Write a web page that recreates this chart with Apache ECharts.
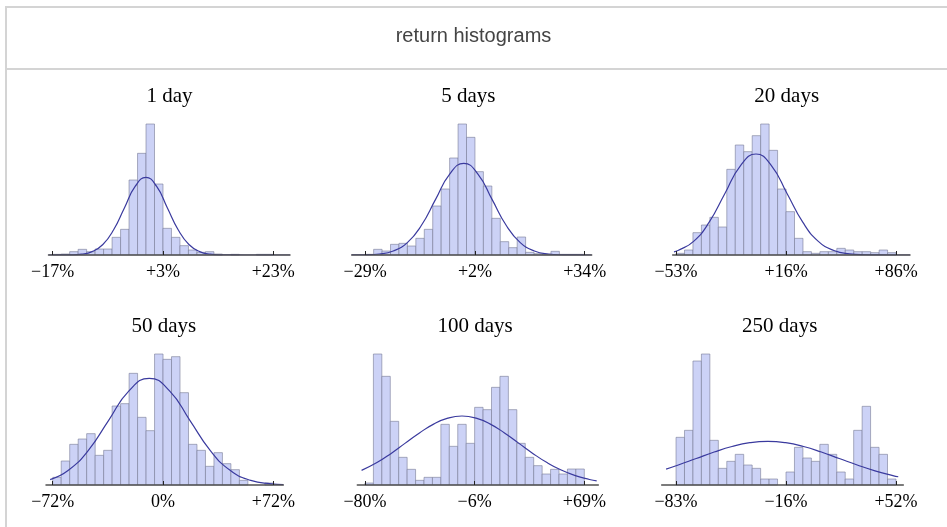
<!DOCTYPE html>
<html>
<head>
<meta charset="utf-8">
<script src="https://cdn.jsdelivr.net/npm/echarts@6/dist/echarts.min.js"></script>
<style>
html,body{margin:0;padding:0;background:#ffffff;}
#c{width:947px;height:527px;}
</style>
</head>
<body>
<div id="c"></div>
<script>
// ---------------- data ----------------
const chartTitle = 'return histograms';
const panelTitles = ['1 day', '5 days', '20 days', '50 days', '100 days', '250 days'];
const binCount = 26;

const ticks1 = [-17, 3, 23];
const tickLabels1 = ['\u221217%', '+3%', '+23%'];
const xRange1 = [-17.76, 26.03];
const counts1 = [2,3,10,17,10,18,18,53,77,225,305,393,213,80,53,28,15,8,10,3,0,2,0,0,2,2];
const fit1 = [[-17.76,0],[-15.7,0.08],[-13.75,0.5],[-11.8,2.6],[-9.85,10.2],[-7.9,31.5],[-5.95,75.7],[-4.0,141.3],[-2.05,205.6],[-0.1,233],[1.85,205.6],[3.8,141.3],[5.75,75.7],[7.7,31.5],[9.65,10.2],[11.6,2.6],[13.55,0.5],[15.5,0.08],[20,0],[26.03,0]];

const ticks2 = [-29, 2.5, 34];
const tickLabels2 = ['\u221229%', '+2%', '+34%'];
const xRange2 = [-32.87, 36.0];
const counts2 = [2,17,12,32,35,27,50,77,147,198,291,393,353,250,207,110,40,22,54,8,4,2,11,2,2,2];
const fit2 = [[-32.87,0.1],[-29.05,0.6],[-25.0,3.05],[-20.95,12.1],[-16.9,37.2],[-12.85,89.3],[-8.8,166.8],[-4.75,242.7],[-0.7,275],[3.35,242.7],[7.4,166.8],[11.45,89.3],[15.5,37.2],[19.55,12.1],[23.6,3.05],[27.65,0.6],[31.7,0.08],[36.0,0]];

const ticks3 = [-53, 16.5, 86];
const tickLabels3 = ['\u221253%', '+16%', '+86%'];
const xRange3 = [-55.1, 94.8];
const counts3 = [5,15,67,90,113,84,257,330,310,358,393,314,198,130,50,10,5,10,10,20,15,10,10,7,15,7];
const fit3 = [[-54.3,9.5],[-51.75,13.3],[-41.9,41.0],[-32.05,98.4],[-22.2,183.8],[-12.35,267.4],[-2.5,303],[7.35,267.4],[17.2,183.8],[27.05,98.4],[36.9,41.0],[46.75,13.3],[56.6,3.4],[66.45,0.7],[76.3,0.1],[85,0],[94.8,0]];

const ticks4 = [-72, 0, 72];
const tickLabels4 = ['\u221272%', '0%', '+72%'];
const xRange4 = [-76.4, 78.5];
const counts4 = [23,72,122,138,154,89,104,237,244,335,203,163,393,377,385,277,122,104,56,97,64,46,14,0,0,6];
const fit4 = [[-73.7,16.3],[-62,43.3],[-48.75,103.9],[-35.5,194.1],[-22.25,282.4],[-9,320],[4.25,282.4],[17.5,194.1],[30.75,103.9],[44,43.3],[57.25,14.0],[70.5,3.6],[78.5,1.4]];

const ticks5 = [-80, -5.5, 69];
const tickLabels5 = ['\u221280%', '\u22126%', '+69%'];
const xRange5 = [-85.2, 78.5];
const counts5 = [6,393,326,191,83,47,14,23,23,182,116,182,125,233,226,293,326,226,125,83,58,33,47,33,48,48];
const fit5 = [[-82.3,43.9],[-71.85,67.2],[-62.2,94.8],[-52.6,125.6],[-42.98,156.2],[-33.35,182.7],[-23.7,200.6],[-14.1,207],[-4.5,200.6],[5.15,182.7],[14.78,156.2],[24.4,125.6],[34.0,94.8],[43.65,67.2],[53.3,44.8],[62.9,28.0],[72.5,16.5],[77.4,12.2]];

const ticks6 = [-83, -15.5, 52];
const tickLabels6 = ['\u221283%', '\u221216%', '+52%'];
const xRange6 = [-91.8, 56.5];
const counts6 = [143,164,372,393,134,50,71,92,60,50,18,18,0,39,113,81,71,122,92,39,18,164,236,113,92,18];
const fit6 = [[-89.1,47.7],[-81.6,60.0],[-70.6,79.5],[-59.6,98.9],[-48.65,115.6],[-37.7,127.0],[-26.7,131],[-15.7,127.0],[-4.75,115.6],[6.2,98.9],[17.2,79.5],[28.2,60.0],[39.15,42.5],[50.1,28.3],[53.4,24.8]];

// ---------------- layout / style ----------------
const layout = [
  {left: 48.5,  width: 241.5, top: 124, height: 131, cx: 169.5, ty: 96},
  {left: 351.7, width: 240.0, top: 124, height: 131, cx: 468.3, ty: 96},
  {left: 672.7, width: 237.3, top: 124, height: 131, cx: 786.7, ty: 96},
  {left: 46.0,  width: 237.3, top: 354, height: 131, cx: 163.8, ty: 326},
  {left: 357.3, width: 241.0, top: 354, height: 131, cx: 475.0, ty: 326},
  {left: 661.7, width: 241.6, top: 354, height: 131, cx: 779.7, ty: 326}
];
const barFill = '#ccd2f6';
const barStroke = 'rgba(120,124,150,0.6)';
const curveColor = '#3a3a9e';
const axisColor = '#505050';

const panels = [
  {ticks: ticks1, labels: tickLabels1, range: xRange1, counts: counts1, fit: fit1},
  {ticks: ticks2, labels: tickLabels2, range: xRange2, counts: counts2, fit: fit2},
  {ticks: ticks3, labels: tickLabels3, range: xRange3, counts: counts3, fit: fit3},
  {ticks: ticks4, labels: tickLabels4, range: xRange4, counts: counts4, fit: fit4},
  {ticks: ticks5, labels: tickLabels5, range: xRange5, counts: counts5, fit: fit5},
  {ticks: ticks6, labels: tickLabels6, range: xRange6, counts: counts6, fit: fit6}
];

const grids = [], xAxes = [], yAxes = [], series = [];
const graphics = [
  {type: 'line', shape: {x1: 6, y1: 7, x2: 947, y2: 7}, style: {stroke: '#d4d4d4', lineWidth: 2}},
  {type: 'line', shape: {x1: 6, y1: 69, x2: 947, y2: 69}, style: {stroke: '#d4d4d4', lineWidth: 2}},
  {type: 'line', shape: {x1: 6, y1: 6, x2: 6, y2: 527}, style: {stroke: '#d4d4d4', lineWidth: 2}},
  {type: 'text', x: 473.5, y: 36, style: {text: chartTitle, fill: '#444', font: '20px "Liberation Sans", Arial, sans-serif', align: 'center', verticalAlign: 'middle'}}
];

panels.forEach((p, i) => {
  const L = layout[i];
  grids.push({left: L.left, top: L.top, width: L.width, height: L.height, outerBoundsMode: 'none', containLabel: false});
  const lo = p.ticks[0], hi = p.ticks[2];
  const w = (hi - lo) / binCount;
  const binData = p.counts.map((c, k) => [lo + k * w, lo + (k + 1) * w, c]);
  xAxes.push({
    gridIndex: i, type: 'value', min: p.range[0], max: p.range[1], z: 5,
    axisLine: {show: true, onZero: false, lineStyle: {color: axisColor, width: 1.5}},
    axisTick: {show: true, inside: true, length: 4, customValues: p.ticks, lineStyle: {color: '#222', width: 1}},
    axisLabel: {
      show: true, customValues: p.ticks, margin: 8,
      fontFamily: '"Liberation Serif", "Times New Roman", serif', fontSize: 18, color: '#000',
      formatter: (v) => {
        const idx = p.ticks.findIndex(t => Math.abs(t - v) < 1e-6);
        return idx >= 0 ? p.labels[idx] : '';
      }
    },
    splitLine: {show: false}
  });
  yAxes.push({gridIndex: i, type: 'value', min: 0, max: Math.max(...p.counts), show: false});
  series.push({
    type: 'custom', xAxisIndex: i, yAxisIndex: i, silent: true,
    data: binData,
    encode: {x: [0, 1], y: 2},
    renderItem: (params, api) => {
      const c = api.value(2);
      if (!c) return null;
      const p0 = api.coord([api.value(0), c]);
      const p1 = api.coord([api.value(1), 0]);
      return {
        type: 'rect',
        shape: {x: p0[0], y: p0[1], width: p1[0] - p0[0], height: p1[1] - p0[1]},
        style: {fill: barFill, stroke: barStroke, lineWidth: 1}
      };
    }
  });
  series.push({
    type: 'line', xAxisIndex: i, yAxisIndex: i, data: p.fit, silent: true,
    showSymbol: false, symbol: 'none', smooth: true,
    lineStyle: {color: curveColor, width: 1.2}, z: 3
  });
  graphics.push({type: 'text', x: L.cx, y: L.ty, style: {text: panelTitles[i], fill: '#000', font: '21px "Liberation Serif", "Times New Roman", serif', align: 'center', verticalAlign: 'middle'}});
});

const chart = echarts.init(document.getElementById('c'), null, {renderer: 'canvas'});
chart.setOption({
  backgroundColor: '#ffffff',
  animation: false,
  grid: grids,
  xAxis: xAxes,
  yAxis: yAxes,
  series: series,
  graphic: graphics
});
</script>
</body>
</html>
